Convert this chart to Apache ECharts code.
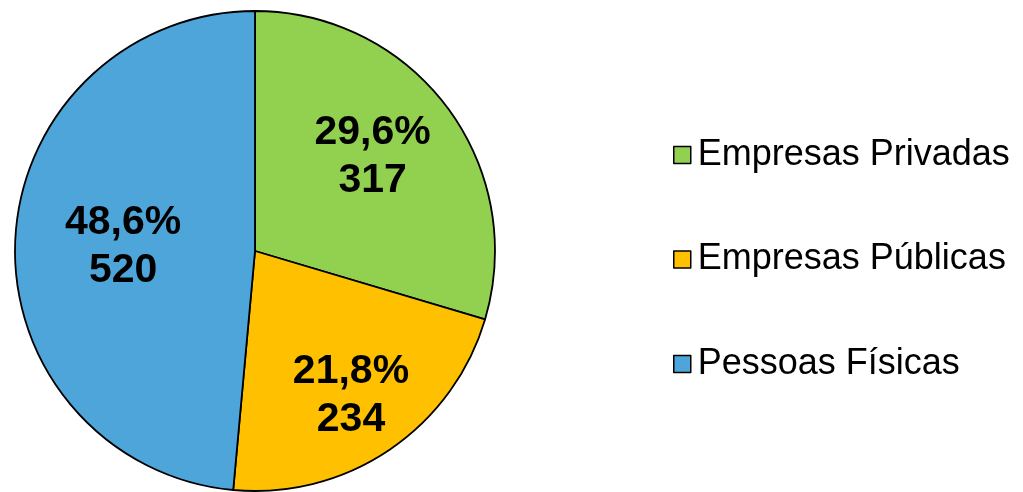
<!DOCTYPE html>
<html>
<head>
<meta charset="utf-8">
<script src="https://cdn.jsdelivr.net/npm/echarts@6/dist/echarts.min.js"></script>
<style>
  html, body { margin: 0; padding: 0; background: #fff; }
  #chart { width: 1023px; height: 492px; }
</style>
</head>
<body>
<div id="chart"></div>
<script>
const categories = ['Empresas Privadas', 'Empresas Públicas', 'Pessoas Físicas'];
const values = [317, 234, 520];
const colors = ['#92D050', '#FFC000', '#4EA5D9'];
// label nudges away from the default mid-radius spot
const labelOffsets = [[19, -21], [27, 43], [-9, 1]];

const total = values.reduce((a, b) => a + b, 0);
const chart = echarts.init(document.getElementById('chart'));

const option = {
  animation: false,
  legend: {
    orient: 'vertical',
    left: 668,
    top: 132,
    itemWidth: 17,
    itemHeight: 17,
    itemGap: 68.5,
    icon: 'rect',
    itemStyle: { borderColor: '#000', borderWidth: 1.5 },
    textStyle: {
      fontFamily: 'Liberation Sans, Arial, sans-serif',
      fontSize: 36,
      lineHeight: 36,
      color: '#000',
      padding: [0, 0, 0, 2]
    },
    data: categories
  },
  series: [
    {
      type: 'pie',
      center: [255, 251],
      radius: 240,
      startAngle: 90,
      clockwise: true,
      avoidLabelOverlap: false,
      itemStyle: { borderColor: '#000', borderWidth: 1.8 },
      label: {
        show: true,
        position: 'inside',
        fontFamily: 'Liberation Sans, Arial, sans-serif',
        fontWeight: 'bold',
        fontSize: 41,
        lineHeight: 48,
        color: '#000',
        formatter: p => (p.value / total * 100).toFixed(1).replace('.', ',') + '%\n' + p.value
      },
      labelLine: { show: false },
      emphasis: { disabled: true },
      data: categories.map((name, i) => ({
        name: name,
        value: values[i],
        itemStyle: { color: colors[i] },
        label: { offset: labelOffsets[i] }
      }))
    }
  ]
};

chart.setOption(option);
</script>
</body>
</html>
